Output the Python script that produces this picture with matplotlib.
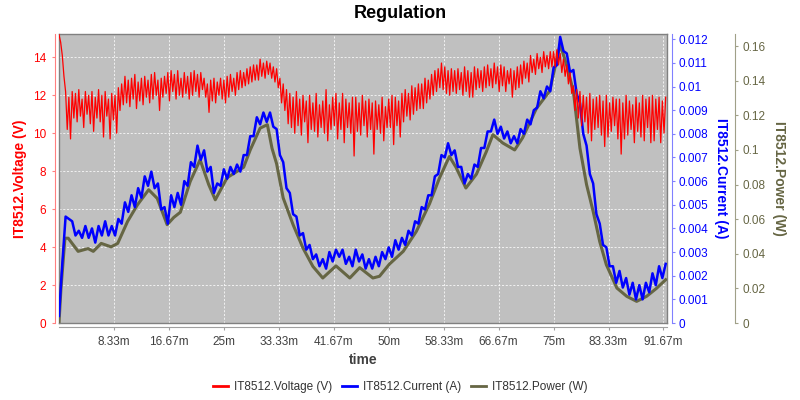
import matplotlib
matplotlib.use("Agg")
import matplotlib.pyplot as plt
import numpy as np
from matplotlib.lines import Line2D
from matplotlib.ticker import FixedLocator, FuncFormatter, MultipleLocator

plt.rcParams["font.family"] = ["Liberation Sans", "DejaVu Sans"]

## voltage: one reading every 0.25 min
V_STEP_MIN = 0.25
voltage = [
    15.2, 14.8, 14.1, 13.0, 12.2, 10.2, 11.9, 9.7, 12.2, 10.8,
    12.1, 10.6, 12.3, 10.9, 11.8, 10.3, 12.2, 11.0, 12.0, 10.5,
    12.2, 10.1, 11.9, 10.8, 12.3, 10.6, 12.0, 9.8, 12.2, 10.9,
    11.8, 9.7, 12.1, 10.7, 12.0, 10.0, 12.4, 11.2, 12.6, 11.5,
    13.0, 11.6, 12.8, 11.4, 12.9, 11.8, 13.1, 11.3, 12.7, 11.7,
    12.9, 11.5, 13.0, 11.9, 12.8, 11.6, 13.1, 11.8, 13.2, 12.0,
    12.8, 11.2, 12.9, 11.9, 13.0, 12.1, 13.2, 11.7, 13.3, 12.2,
    13.1, 11.8, 13.3, 12.0, 12.9, 11.9, 13.2, 12.1, 13.0, 11.8,
    13.2, 12.0, 13.3, 12.2, 13.1, 11.9, 13.2, 12.3, 12.9, 11.9,
    12.6, 11.1, 12.8, 11.7, 12.9, 11.6, 12.7, 12.0, 12.9, 11.8,
    12.8, 11.6, 13.0, 11.9, 13.1, 12.2, 12.9, 12.0, 13.2, 12.3,
    13.3, 12.4, 13.2, 12.5, 13.4, 12.6, 13.5, 12.7, 13.6, 12.8,
    13.6, 12.8, 13.9, 13.0, 13.7, 12.9, 13.8, 13.1, 13.7, 12.9,
    13.5, 12.7, 13.4, 12.4, 12.9, 11.6, 12.6, 11.2, 12.3, 10.5,
    12.1, 10.3, 11.9, 10.0, 12.2, 10.4, 11.8, 9.9, 12.0, 10.6,
    11.7, 9.5, 12.0, 10.2, 11.6, 10.1, 12.1, 9.8, 11.5, 10.3,
    11.7, 10.0, 12.3, 9.6, 11.5, 10.2, 11.9, 10.4, 12.1, 9.7,
    11.6, 10.2, 12.1, 9.5, 11.8, 10.3, 11.6, 10.0, 11.9, 8.8,
    11.9, 10.1, 11.6, 9.9, 12.0, 10.4, 11.7, 9.8, 11.8, 10.2,
    11.6, 8.9, 11.7, 10.2, 11.5, 10.0, 11.9, 9.6, 11.4, 10.3,
    11.8, 10.3, 12.0, 9.4, 11.9, 10.4, 11.7, 9.8, 12.1, 10.6,
    12.3, 10.9, 12.1, 10.7, 12.5, 11.0, 12.4, 11.2, 12.6, 11.3,
    12.6, 11.3, 12.9, 11.6, 12.8, 11.8, 13.1, 12.0, 13.3, 12.2,
    13.4, 12.4, 13.7, 12.3, 13.5, 12.1, 13.3, 12.0, 13.4, 12.2,
    13.3, 12.1, 13.4, 12.3, 13.2, 12.0, 13.5, 12.2, 13.3, 11.9,
    13.2, 11.9, 13.5, 12.3, 13.4, 12.4, 13.3, 12.2, 13.5, 12.4,
    13.6, 12.5, 13.4, 12.4, 13.7, 12.6, 13.5, 12.2, 13.6, 12.5,
    13.5, 12.2, 13.3, 12.6, 13.4, 11.9, 13.3, 12.3, 13.5, 12.4,
    13.6, 12.6, 13.8, 12.9, 13.7, 12.7, 14.1, 13.2, 13.9, 13.1,
    14.2, 13.4, 14.0, 13.2, 14.3, 13.5, 14.1, 13.4, 14.3, 13.5,
    14.3, 13.5, 14.4, 13.6, 14.2, 13.2, 13.9, 13.0, 13.6, 12.6,
    13.2, 12.1, 12.5, 11.2, 12.3, 10.8, 12.2, 10.4, 12.0, 10.6,
    11.9, 10.0, 12.1, 9.6, 11.8, 10.2, 11.9, 10.3, 12.0, 9.9,
    11.7, 9.3, 12.0, 9.8, 11.6, 10.1, 11.9, 10.4, 11.8, 9.7,
    11.8, 8.9, 11.6, 9.7, 12.0, 9.9, 11.7, 10.2, 11.5, 9.5,
    11.9, 10.1, 11.6, 9.8, 12.0, 9.6, 11.8, 10.3, 11.9, 9.5,
    12.0, 9.6, 11.8, 10.2, 11.9, 9.5, 11.7, 10.0, 11.9,
]

## current: one reading every 0.5 min
I_STEP_MIN = 0.5
current = [
    0.0003, 0.0025, 0.0045, 0.0044, 0.0043, 0.0037, 0.0039, 0.0036, 0.0041, 0.0036,
    0.0040, 0.0034, 0.0041, 0.0037, 0.0043, 0.0037, 0.0041, 0.0037, 0.0044, 0.0042,
    0.0051, 0.0047, 0.0054, 0.0049, 0.0057, 0.0053, 0.0062, 0.0058, 0.0064, 0.0057,
    0.0059, 0.0048, 0.0049, 0.0042, 0.0054, 0.0049, 0.0055, 0.0050, 0.0060, 0.0058,
    0.0068, 0.0066, 0.0075, 0.0069, 0.0073, 0.0064, 0.0066, 0.0055, 0.0059, 0.0058,
    0.0065, 0.0061, 0.0066, 0.0063, 0.0067, 0.0064, 0.0071, 0.0071, 0.0079, 0.0079,
    0.0087, 0.0084, 0.0089, 0.0085, 0.0089, 0.0083, 0.0082, 0.0071, 0.0068, 0.0057,
    0.0055, 0.0046, 0.0045, 0.0037, 0.0038, 0.0031, 0.0033, 0.0027, 0.0029, 0.0024,
    0.0027, 0.0023, 0.0030, 0.0026, 0.0031, 0.0028, 0.0031, 0.0025, 0.0028, 0.0024,
    0.0031, 0.0026, 0.0029, 0.0023, 0.0027, 0.0023, 0.0028, 0.0024, 0.0030, 0.0027,
    0.0032, 0.0028, 0.0035, 0.0031, 0.0036, 0.0033, 0.0039, 0.0037, 0.0043, 0.0042,
    0.0049, 0.0048, 0.0054, 0.0054, 0.0062, 0.0063, 0.0071, 0.0070, 0.0076, 0.0071,
    0.0073, 0.0066, 0.0066, 0.0059, 0.0063, 0.0061, 0.0067, 0.0066, 0.0074, 0.0074,
    0.0081, 0.0081, 0.0086, 0.0080, 0.0083, 0.0078, 0.0081, 0.0076, 0.0079, 0.0076,
    0.0082, 0.0080, 0.0086, 0.0084, 0.0090, 0.0091, 0.0098, 0.0095, 0.0100, 0.0098,
    0.0108, 0.0109, 0.0121, 0.0115, 0.0114, 0.0106, 0.0107, 0.0097, 0.0093, 0.0080,
    0.0075, 0.0063, 0.0059, 0.0046, 0.0042, 0.0033, 0.0032, 0.0024, 0.0024, 0.0017,
    0.0022, 0.0015, 0.0019, 0.0012, 0.0017, 0.0010, 0.0016, 0.0010, 0.0017, 0.0013,
    0.0021, 0.0016, 0.0024, 0.0019, 0.0025,
]

# power was read at its turning points (minutes, watts)
power_t = [
    0.0, 0.3, 0.9, 1.4, 2.9, 4.4, 5.2, 6.4, 7.9, 8.9, 10.4, 11.9, 13.6, 14.9,
    16.4, 17.4, 18.4, 19.9, 21.4, 22.7, 23.7, 25.5, 28.0, 29.0, 30.5, 31.6,
    32.3, 33.0, 34.0, 35.5, 37.0, 38.5, 40.0, 42.0, 44.1, 45.6, 47.6, 48.6,
    50.1, 52.2, 54.2, 56.2, 57.7, 59.2, 60.2, 61.7, 63.3, 64.8, 65.8, 67.3,
    69.1, 70.3, 72.4, 74.4, 76.0, 76.9, 78.0, 79.0, 80.0, 81.0, 82.0, 83.0,
    84.6, 86.1, 87.6, 89.1, 90.6, 92.0,
]
power_w = [
    0.0, 0.02, 0.049, 0.049, 0.0414, 0.043, 0.0414, 0.046, 0.044, 0.046, 0.0587,
    0.0683, 0.077, 0.072, 0.0568, 0.061, 0.064, 0.0818, 0.0943, 0.080, 0.0712,
    0.084, 0.090, 0.100, 0.1126, 0.1146, 0.101, 0.092, 0.0722, 0.0568, 0.0433,
    0.0327, 0.026, 0.033, 0.026, 0.032, 0.026, 0.027, 0.034, 0.0414, 0.053,
    0.069, 0.0838, 0.0962, 0.090, 0.078, 0.086, 0.099, 0.1088, 0.104, 0.100,
    0.107, 0.124, 0.134, 0.161, 0.150, 0.134, 0.101, 0.080, 0.0645, 0.047,
    0.0337, 0.0202, 0.0154, 0.0125, 0.0154, 0.020, 0.025,
]

x_ticks_min = [25 / 3 * k for k in range(1, 12)]

t_v = np.arange(len(voltage)) * V_STEP_MIN
t_i = np.arange(len(current)) * I_STEP_MIN

RED, BLUE, OLIVE = "#ff0000", "#0000ff", "#666644"

fig = plt.figure(figsize=(8, 4), dpi=100)
rect = [59 / 800, 77 / 400, 608 / 800, 289 / 400]

# background axes carries the gray plot area and the voltage grid
ax_v = fig.add_axes(rect)
ax_bg = fig.add_axes(rect, sharex=ax_v, sharey=ax_v)
ax_i = ax_v.twinx()
ax_p = ax_v.twinx()

ax_bg.set_zorder(0)
ax_p.set_zorder(1)
ax_i.set_zorder(2)
ax_v.set_zorder(3)
for a in (ax_v, ax_i, ax_p):
    a.patch.set_visible(False)

ax_bg.set_facecolor("#c0c0c0")
ax_bg.grid(True, color="white", ls=(0, (2.5, 2)), lw=0.6, alpha=0.9)
ax_bg.tick_params(left=False, bottom=False, labelleft=False, labelbottom=False)
for s in ax_bg.spines.values():
    s.set_color("#808080")
    s.set_linewidth(1.0)

ax_p.plot(power_t, power_w, color=OLIVE, lw=2.2)
ax_i.plot(t_i, current, color=BLUE, lw=1.8)
ax_v.plot(t_v, voltage, color=RED, lw=0.9)

ax_v.set_xlim(0, 92.2)
ax_v.set_ylim(0, 15.23)
ax_i.set_ylim(0, 0.01222)
ax_p.set_ylim(0, 0.167)

ax_v.xaxis.set_major_locator(FixedLocator(x_ticks_min))
ax_v.xaxis.set_major_formatter(
    FuncFormatter(lambda v, p: f"{v:.2f}".rstrip("0").rstrip(".") + "m")
)
ax_v.yaxis.set_major_locator(MultipleLocator(2))
ax_i.yaxis.set_major_locator(MultipleLocator(0.001))
ax_p.yaxis.set_major_locator(MultipleLocator(0.02))
g_fmt = FuncFormatter(lambda v, p: f"{v:.3f}".rstrip("0").rstrip("."))
ax_i.yaxis.set_major_formatter(g_fmt)
ax_p.yaxis.set_major_formatter(g_fmt)

## spines: offset axis lines like the original
for s in ("top", "right"):
    ax_v.spines[s].set_visible(False)
for a in (ax_i, ax_p):
    for s in ("top", "left", "bottom"):
        a.spines[s].set_visible(False)
    a.tick_params(bottom=False, labelbottom=False)

ax_v.spines["left"].set_position(("outward", 2.9))
ax_v.spines["left"].set_color("#ff8080")
ax_v.spines["bottom"].set_position(("outward", 2.9))
ax_v.spines["bottom"].set_color("#a0a0a0")
ax_i.spines["right"].set_position(("outward", 3.4))
ax_i.spines["right"].set_color("#8080ff")
ax_p.spines["right"].set_position(("outward", 49))
ax_p.spines["right"].set_color("#a0a088")

tick_font = 8.5
ax_v.tick_params(axis="x", colors="#a0a0a0", labelcolor="#404040",
                 length=2, pad=4.3, labelsize=tick_font)
ax_v.tick_params(axis="y", colors="#ff8080", labelcolor=RED,
                 length=2, pad=4.3, labelsize=tick_font)
ax_i.tick_params(axis="y", colors="#8080ff", labelcolor=BLUE,
                 length=2, pad=2.9, labelsize=tick_font)
ax_p.tick_params(axis="y", colors="#a0a088", labelcolor=OLIVE,
                 length=2, pad=3.4, labelsize=tick_font)

ax_v.set_xlabel("time", fontsize=10, fontweight="bold", color="#404040", labelpad=4)

mid_y = 1 - 178.5 / 400
fig.text(20 / 800, mid_y, "IT8512.Voltage (V)", rotation=90, color=RED,
         fontsize=10, fontweight="bold", ha="center", va="center")
fig.text(721 / 800, mid_y, "IT8512.Current (A)", rotation=270, color=BLUE,
         fontsize=10, fontweight="bold", ha="center", va="center")
fig.text(779 / 800, mid_y, "IT8512.Power (W)", rotation=270, color=OLIVE,
         fontsize=10, fontweight="bold", ha="center", va="center")

fig.text(0.5, 1 - 14 / 400, "Regulation", fontsize=13, fontweight="bold",
         ha="center", va="center")

handles = [
    Line2D([], [], color=RED, lw=2),
    Line2D([], [], color=BLUE, lw=2),
    Line2D([], [], color=OLIVE, lw=2),
]
labels = ["IT8512.Voltage (V)", "IT8512.Current (A)", "IT8512.Power (W)"]
fig.legend(handles, labels, loc="center", bbox_to_anchor=(0.5, 1 - 387 / 400),
           ncol=3, frameon=False, fontsize=8.5, handlelength=1.3,
           handletextpad=0.5, columnspacing=0.8, labelcolor="#333333")

fig.savefig("out.png", dpi=100)
